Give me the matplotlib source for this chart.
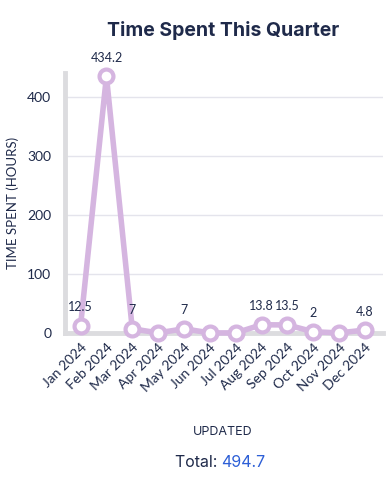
import matplotlib
matplotlib.use("Agg")
import matplotlib.pyplot as plt

months = ["Jan 2024", "Feb 2024", "Mar 2024", "Apr 2024", "May 2024", "Jun 2024",
          "Jul 2024", "Aug 2024", "Sep 2024", "Oct 2024", "Nov 2024", "Dec 2024"]
hours = [12.5, 434.2, 7, 0, 7, 0, 0, 13.8, 13.5, 2, 0, 4.8]
labels = ["12.5", "434.2", "7", "", "7", "", "", "13.8", "13.5", "2", "", "4.8"]
total = "494.7"

navy = "#1f2a4a"
lavender = "#d5b5e0"

plt.rcParams["font.family"] = ["Lato", "DejaVu Sans"]

fig = plt.figure(figsize=(3.92, 4.86), dpi=100)
ax = fig.add_axes([0.166, 0.315, 0.811, 0.535])

x = list(range(len(months)))
ax.plot(x, hours, color=lavender, linewidth=4, marker="o", markersize=10,
        markerfacecolor="white", markeredgecolor=lavender, markeredgewidth=3,
        clip_on=False, zorder=3)

for xi, yi, lab in zip(x, hours, labels):
    if lab:
        ax.annotate(lab, (xi, yi), xytext=(0, 9), textcoords="offset points",
                    ha="center", va="bottom", fontsize=9, color=navy)

ax.set_xlim(-0.6, 11.7)
ax.set_ylim(0, 440)
ax.set_yticks([0, 100, 200, 300, 400])
ax.set_xticks(x)
ax.set_xticklabels(months, rotation=45, ha="right", rotation_mode="anchor")
ax.tick_params(axis="both", length=0, labelsize=10, colors=navy, pad=6)
ax.tick_params(axis="y", pad=10)

ax.grid(axis="y", color="#e4e4ec", linewidth=1)
ax.set_axisbelow(True)
for s in ["top", "right"]:
    ax.spines[s].set_visible(False)
ax.spines["left"].set_color("#dcdcdf")
ax.spines["left"].set_linewidth(3.5)
ax.spines["bottom"].set_color("#dcdcdf")
ax.spines["bottom"].set_linewidth(3.5)

ax.set_ylabel("TIME SPENT (HOURS)", fontsize=9.5, color=navy, labelpad=6)

fig.text(0.57, 0.938, "Time Spent This Quarter", ha="center", va="center",
         fontsize=14, fontweight="bold", color=navy, family=["Inter", "DejaVu Sans"])
fig.text(0.567, 0.111, "UPDATED", ha="center", va="center", fontsize=9,
         color=navy, family=["Inter", "DejaVu Sans"])
fig.text(0.565, 0.049, "Total: ", ha="right", va="center", fontsize=11.5,
         color=navy, family=["Inter", "DejaVu Sans"])
fig.text(0.565, 0.049, total, ha="left", va="center", fontsize=11.5,
         color="#2d5fd6", family=["Inter", "DejaVu Sans"])

fig.savefig("out.png", dpi=100)
